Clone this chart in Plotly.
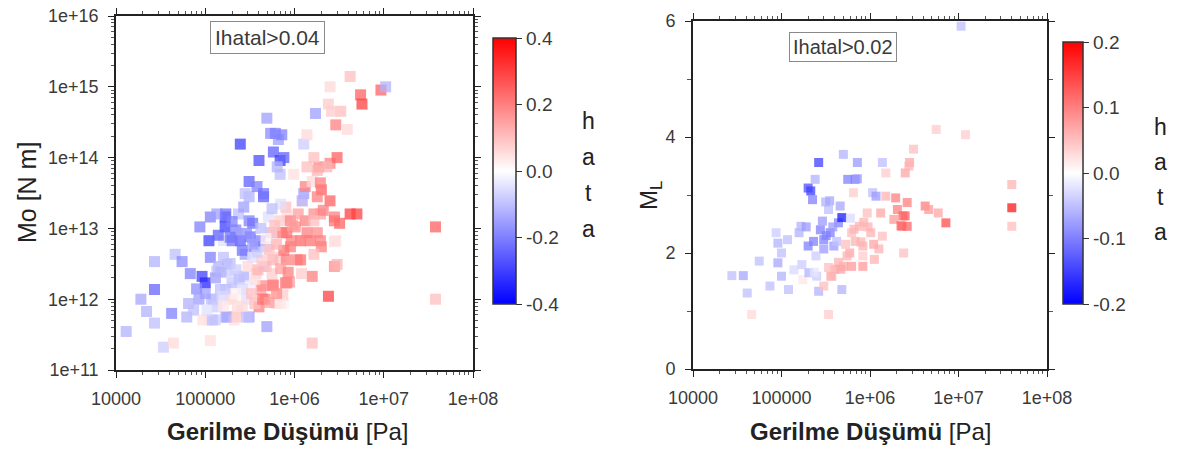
import plotly.graph_objects as go

# ---- Left panel: seismic moment vs stress drop, coloured by error ----
stress_drop_mo = [
    1.3e4, 1.9e4, 2.2e4, 2.7e4, 2.7e4, 2.7e4, 3.4e4, 4.4e4, 4.2e4, 4.6e4,
    5.5e4, 6.8e4, 6.5e4, 6.2e4, 7.4e4, 9.2e4, 1.0e5, 8.7e4, 1.14e5, 1.14e5,
    1.1e5, 1.14e5, 1.24e5, 1.29e5, 1.41e5, 1.48e5, 1.67e5, 1.67e5, 1.6e5, 1.75e5,
    1.75e5, 1.9e5, 2.0e5, 2.1e5, 2.3e5, 2.36e5, 2.47e5, 2.47e5, 2.7e5, 2.8e5,
    2.9e5, 3.1e5, 3.1e5, 3.1e5, 3.1e5, 3.6e5, 3.8e5, 4.0e5, 4.0e5, 4.2e5,
    4.5e5, 4.5e5, 4.7e5, 4.9e5, 4.9e5, 5.1e5, 5.4e5, 5.4e5, 5.6e5, 5.8e5,
    5.8e5, 6.6e5, 6.9e5, 6.9e5, 6.9e5, 7.2e5, 7.6e5, 7.9e5, 8.2e5, 9.0e5,
    9.8e5, 1.02e6, 1.07e6, 1.17e6, 1.22e6, 1.27e6, 1.27e6, 1.32e6, 1.32e6, 1.38e6,
    1.5e6, 1.58e6, 1.58e6, 1.65e6, 1.72e6, 1.8e6, 1.58e6, 1.87e6, 1.95e6, 2.0e6,
    2.0e6, 2.4e6, 2.4e6, 2.5e6, 2.5e6, 2.5e6, 2.8e6, 2.8e6, 2.9e6, 2.9e6,
    3.0e6, 3.2e6, 3.3e6, 3.9e6, 4.2e6, 4.2e6, 5.0e6, 5.5e6, 5.7e6, 9.3e6,
    1.05e7, 3.8e7, 3.8e7,
    1.1e5, 1.35e5, 1.7e5, 2.0e5, 1.6e5, 1.35e5, 1.7e5, 2.0e5, 1.7e5, 2.0e5,
    2.2e5, 2.9e5, 1.7e5, 2.7e5, 3.4e5, 3.2e5, 4.1e5, 2.6e5, 3.4e5, 4.8e5,
    5.7e5, 7.4e5, 6.8e5, 9.2e5, 3.0e5, 3.7e5, 4.8e5, 5.7e5, 8.1e5, 3.2e5,
    4.4e5, 5.7e5, 8.8e5, 3.6e5, 4.4e5, 6.2e5, 7.4e5, 1.17e5, 9.4e4, 1.2e5,
    2.1e6, 2.8e6, 9.0e5, 1.65e6, 8.2e5, 1.17e6, 1.95e6, 2.8e6, 7.6e5, 1.17e6,
    1.65e6, 3.0e6, 1.2e6, 8.2e5, 6.9e5,
    2.6e6, 6.1e5, 7.2e5, 1.38e6, 7.6e5, 6.4e5, 1.65e6, 1.38e6, 1.8e6, 2.3e6,
    4.5e5, 2.8e5, 1.95e6, 1.22e6, 1.8e6,
    1.3e5, 1.5e5, 1.9e5, 2.2e5, 2.4e5, 2.6e5, 2.2e5, 1.55e5, 1.35e5, 1.6e5,
    2.6e5, 3.3e5, 3.6e5, 3.9e5, 4.3e5, 3.8e5, 3.4e5, 2.9e5, 2.2e5, 1.9e5,
    1.4e5, 2.0e5, 4.2e5, 4.8e5, 5.2e5, 6.3e5, 6.0e5, 7.0e5, 6.3e5, 5.2e5,
    8.5e5, 9.5e5, 1.1e6, 8.0e5, 7.0e5, 5.6e5, 1.0e5, 8.0e4, 8.5e4, 1.05e5,
]
moment = [
    3.5e11, 1.0e12, 6.7e11, 1.37e12, 3.4e12, 4.6e11, 2.1e11, 2.4e11, 6.3e11, 4.3e12,
    3.4e12, 2.3e12, 8.7e11, 5.6e11, 7.0e11, 2.1e12, 1.7e12, 1.05e13, 1.45e13, 3.9e12,
    5.1e11, 2.6e11, 1.0e12, 5.1e11, 2.9e12, 1.37e12, 1.45e13, 1.05e13, 6.7e12, 3.1e12,
    5.6e11, 1.0e12, 1.7e12, 5.1e11, 7.0e11, 1.6e13, 1.55e14, 6.7e12, 2.1e12, 4.3e12,
    1.0e12, 5.6e11, 4.6e13, 2.8e13, 1.28e13, 5.5e12, 3.9e13, 9.1e13, 7.8e11, 1.37e12,
    2.8e13, 2.9e12, 1.0e12, 3.6e14, 4.1e11, 1.45e13, 2.2e14, 8.7e12, 2.3e12, 1.55e12,
    1.2e14, 1.8e14, 9.1e13, 5.8e13, 3.9e12, 8.7e12, 8.7e11, 1.7e12, 1.45e13, 5.5e12,
    5.8e13, 1.05e13, 3.6e12, 6.7e12, 2.45e13, 1.55e14, 3.1e13, 3.9e13, 1.28e13, 8.7e12,
    6.7e12, 2.1e12, 4.6e13, 1.6e13, 4.2e14, 8.7e12, 2.4e11, 7.4e13, 1.6e13, 3.5e13,
    5.5e12, 5.7e14, 1.1e12, 1.0e15, 8.3e13, 2.45e13, 1.45e13, 2.9e12, 6.7e12, 2.9e14,
    1.0e14, 1.18e13, 4.5e14, 2.5e14, 1.4e15, 1.6e13, 1.6e13, 7.7e14, 5.7e14, 9.0e14,
    1.0e15, 1.05e13, 1.0e12,
    6.7e12, 1.6e13, 1.6e13, 6.7e12, 3.9e12, 2.5e12, 2.5e12, 2.1e12, 1.37e12, 1.0e12,
    5.6e11, 5.6e11, 5.6e11, 2.0e13, 1.18e13, 7.6e12, 6.7e12, 4.9e12, 3.9e12, 5.5e12,
    8.7e12, 8.7e12, 1.28e13, 6.7e12, 2.9e12, 2.3e12, 2.9e12, 3.6e12, 3.6e12, 1.55e12,
    1.55e12, 1.6e12, 1.75e12, 8.7e11, 1.0e12, 8.7e11, 1.15e12, 1.0e12, 5.1e11, 5.1e11,
    1.8e13, 1.28e13, 1.28e13, 1.28e13, 8.7e12, 6.7e12, 6.7e12, 6.5e12, 4.9e12, 3.6e12,
    4.3e12, 3.1e12, 2.3e12, 1.7e12, 8.7e11,
    4.5e14, 2.2e14, 2.1e14, 2.1e14, 1.0e14, 7.4e13, 1.0e14, 7.4e13, 6.6e13, 7.4e13,
    3.1e13, 3.1e13, 4.4e13, 2.45e13, 2.8e13,
    2.0e12, 2.4e12, 3.2e12, 2.6e12, 1.9e12, 1.4e12, 1.2e12, 1.1e12, 7.8e11, 8.0e11,
    8.0e11, 1.2e12, 1.9e12, 2.6e12, 3.5e12, 4.6e12, 6.0e12, 8.5e12, 9.5e12, 7.5e12,
    8.0e12, 1.25e13, 1.0e13, 7.2e12, 5.0e12, 6.0e12, 1.1e13, 2.7e12, 1.2e12, 9.0e11,
    2.4e12, 1.1e13, 1.6e13, 2.0e13, 2.2e13, 1.9e13, 1.2e12, 1.4e12, 1.0e12, 7.0e11,
]
hata_mo = [
    -0.12, -0.14, -0.12, -0.24, -0.12, -0.10, -0.08, 0.06, -0.20, -0.10,
    -0.18, -0.20, -0.12, -0.12, -0.10, -0.30, -0.34, -0.20, -0.20, -0.20,
    0.04, 0.05, -0.10, -0.08, -0.12, -0.10, -0.30, -0.30, -0.05, -0.12,
    -0.20, 0.04, -0.10, 0.05, 0.06, -0.10, -0.30, -0.25, -0.12, -0.15,
    -0.05, -0.15, -0.25, -0.12, -0.20, -0.20, -0.20, -0.28, 0.20, 0.15,
    -0.25, -0.10, 0.20, -0.15, -0.15, -0.05, -0.18, -0.10, 0.08, 0.20,
    -0.25, -0.15, -0.30, -0.10, 0.08, 0.15, 0.02, 0.20, 0.06, 0.20,
    0.05, 0.18, 0.20, 0.15, 0.08, -0.08, -0.15, 0.20, 0.20, 0.20,
    0.22, 0.20, 0.06, 0.18, -0.15, 0.18, 0.10, 0.20, 0.15, 0.25,
    0.20, 0.08, 0.30, 0.06, 0.20, 0.25, 0.20, 0.18, 0.05, 0.20,
    0.25, 0.25, 0.10, 0.06, 0.10, 0.30, 0.30, 0.25, 0.30, 0.25,
    -0.12, 0.25, 0.10,
    -0.30, -0.15, -0.22, -0.22, -0.10, -0.10, -0.08, -0.06, -0.10, 0.06,
    0.08, -0.10, -0.12, -0.15, -0.22, -0.22, -0.20, -0.22, -0.05, -0.08,
    0.10, 0.18, 0.08, 0.20, 0.06, 0.08, 0.10, 0.12, 0.20, -0.03,
    0.18, 0.20, 0.15, 0.10, 0.22, 0.06, 0.08, -0.10, 0.05, -0.10,
    0.20, 0.22, 0.20, 0.10, 0.22, 0.20, 0.20, 0.05, 0.22, 0.22,
    0.10, 0.12, 0.08, 0.20, 0.04,
    0.08, -0.20, -0.20, 0.06, -0.25, -0.12, 0.10, 0.10, 0.12, 0.12,
    -0.22, -0.10, 0.20, -0.12, 0.20,
    -0.15, -0.12, -0.10, -0.08, -0.10, -0.06, 0.02, -0.06, -0.08, 0.04,
    0.06, 0.10, 0.05, 0.12, 0.08, -0.08, -0.15, -0.18, -0.20, -0.22,
    -0.25, -0.20, -0.10, 0.02, 0.10, 0.12, 0.10, 0.15, 0.18, 0.15,
    0.20, 0.15, 0.15, 0.10, -0.05, -0.10, -0.15, -0.18, -0.15, -0.05,
]

# ---- Right panel: local magnitude vs stress drop, coloured by error ----
stress_drop_ml = [
    2.75e4, 3.7e4, 4.1e4, 4.6e4, 5.6e4, 7.4e4, 8.7e4, 9.1e4, 9.1e4, 1.0e5,
    1.0e5, 1.17e5, 1.2e5, 1.38e5, 1.58e5, 1.66e5, 1.74e5, 2.0e5, 2.14e5, 2.24e5,
    2.04e5, 2.4e5, 2.5e5, 2.63e5, 2.63e5, 2.75e5, 3.0e5, 3.0e5, 3.4e5, 3.4e5,
    3.55e5, 3.7e5, 3.9e5, 4.4e5, 4.6e5, 4.8e5, 5.0e5, 5.0e5, 4.8e5, 5.6e5,
    5.9e5, 6.2e5, 6.2e5, 6.5e5, 6.8e5, 7.2e5, 7.6e5, 8.3e5, 8.3e5, 9.3e5,
    1.02e6, 1.07e6, 1.12e6, 1.17e6, 1.32e6, 1.38e6, 1.38e6, 1.51e6, 1.51e6, 1.86e6,
    1.95e6, 2.04e6, 2.3e6, 2.4e6, 2.5e6, 2.5e6, 2.63e6, 2.63e6, 2.8e6, 3.1e6,
    4.2e6, 4.6e6, 5.6e6, 5.9e6, 7.2e6, 1.2e7, 1.07e7, 4.0e7, 4.0e7, 4.0e7,
    3.16e5, 2.0e5, 3.0e5, 2.45e5, 4.4e5, 4.0e5, 2.35e5, 2.75e6, 2.35e6, 2.24e6,
    8.5e5, 6.6e5, 7.9e5, 1.26e6, 8.3e5, 4.7e5, 3.6e5, 7.2e5,
    2.9e5, 3.2e5, 3.8e5, 4.2e5, 3.5e5, 1.9e5, 2.3e5, 5.3e5, 5.5e5, 6.8e5,
    9.5e5, 1.1e6, 3.4e5, 1.7e5, 6.0e5,
]
ml = [
    1.61, 1.61, 1.31, 0.94, 1.86, 1.43, 2.35, 2.17, 1.83, 2.0,
    1.6, 2.23, 1.37, 1.71, 2.35, 2.46, 1.54, 3.12, 3.07, 2.92,
    1.66, 3.27, 1.6, 3.56, 1.34, 2.4, 2.23, 1.43, 2.75, 0.94,
    2.35, 1.6, 2.12, 2.52, 2.81, 2.61, 1.77, 3.7, 1.37, 3.27,
    2.0, 2.35, 1.77, 3.04, 3.27, 3.56, 2.46, 2.12, 1.77, 2.69,
    2.35, 3.04, 1.89, 2.98, 2.69, 2.29, 3.56, 3.38, 2.98, 2.58,
    2.95, 2.75, 2.46, 2.0, 3.38, 2.64, 2.87, 2.46, 3.56, 3.79,
    2.81, 2.75, 4.13, 2.69, 2.52, 4.04, 5.91, 3.18, 2.78, 2.46,
    2.88, 2.12, 2.07, 1.95, 1.84, 1.72, 1.67, 3.5, 2.64, 2.47,
    2.53, 2.41, 2.19, 2.07, 1.95, 1.72, 1.6, 3.28,
    2.55, 2.3, 2.45, 2.2, 2.9, 2.45, 2.2, 2.15, 1.95, 2.2,
    2.45, 2.15, 1.75, 1.8, 2.6,
]
hata_ml = [
    -0.05, -0.07, -0.05, 0.03, -0.05, -0.05, -0.04, -0.06, -0.07, -0.05,
    -0.06, -0.05, -0.05, -0.03, -0.06, -0.06, 0.02, -0.14, -0.15, -0.10,
    -0.06, -0.06, -0.04, -0.15, -0.06, -0.10, -0.10, 0.05, -0.05, 0.04,
    -0.10, 0.06, -0.08, -0.10, -0.07, -0.18, 0.07, -0.06, -0.06, -0.10,
    0.07, 0.05, 0.08, 0.04, -0.10, -0.08, 0.06, 0.06, 0.08, 0.05,
    0.06, -0.05, 0.06, -0.08, 0.07, 0.05, -0.05, 0.04, 0.06, 0.08,
    0.10, 0.10, 0.10, 0.05, 0.07, 0.12, 0.10, 0.12, 0.07, 0.05,
    0.10, 0.08, 0.04, 0.07, 0.14, 0.04, -0.05, 0.06, 0.18, 0.05,
    -0.06, -0.10, -0.08, -0.04, 0.06, 0.07, -0.02, 0.06, 0.12, 0.12,
    0.06, 0.06, 0.06, 0.06, 0.04, 0.07, 0.06, -0.08,
    -0.08, -0.10, -0.08, -0.05, -0.07, -0.08, -0.10, 0.05, 0.06, 0.06,
    0.06, 0.07, 0.05, -0.04, -0.03,
]

x_tick_vals = [1e4, 1e5, 1e6, 1e7, 1e8]
x_tick_text = ["10000", "100000", "1e+06", "1e+07", "1e+08"]
mo_tick_vals = [1e11, 1e12, 1e13, 1e14, 1e15, 1e16]
mo_tick_text = ["1e+11", "1e+12", "1e+13", "1e+14", "1e+15", "1e+16"]
ml_tick_vals = [0, 2, 4, 6]
cb_mo_vals = [-0.4, -0.2, 0.0, 0.2, 0.4]
cb_mo_text = ["-0.4", "-0.2", "0.0", "0.2", "0.4"]
cb_ml_vals = [-0.2, -0.1, 0.0, 0.1, 0.2]
cb_ml_text = ["-0.2", "-0.1", "0.0", "0.1", "0.2"]

W, H = 1178, 457
FONT = "Liberation Sans"
INK = "#3a3a3a"
scale = [[0.0, "rgb(0,0,255)"], [0.5, "rgb(255,255,255)"], [1.0, "rgb(255,0,0)"]]


def fx(p):
    return p / W


def fy(p):
    return 1 - p / H


def log_minor_vals(lo, hi):
    # intermediate 2..9 ticks inside every decade
    return [k * 10.0 ** e for e in range(lo, hi) for k in range(2, 10)]


fig = go.Figure()
fig.add_trace(go.Scatter(
    x=stress_drop_mo, y=moment, mode="markers", xaxis="x", yaxis="y",
    marker=dict(symbol="square", size=11, color=hata_mo, coloraxis="coloraxis",
                opacity=0.75, line=dict(width=0)),
    showlegend=False, hoverinfo="skip",
))
fig.add_trace(go.Scatter(
    x=stress_drop_ml, y=ml, mode="markers", xaxis="x2", yaxis="y2",
    marker=dict(symbol="square", size=9, color=hata_ml, coloraxis="coloraxis2",
                opacity=0.75, line=dict(width=0)),
    showlegend=False, hoverinfo="skip",
))

axis_style = dict(
    showline=True, linecolor="#222222", linewidth=1.6, mirror="allticks",
    ticks="outside", ticklen=6, tickwidth=1.3, tickcolor="#222222",
    showgrid=False, zeroline=False, ticklabelstandoff=6, automargin=False,
    tickfont=dict(family=FONT, size=18, color=INK),
)


def minor_style(vals):
    return dict(ticks="outside", ticklen=3, tickwidth=1, tickcolor="#555555",
                tickvals=vals, showgrid=False)


fig.update_layout(
    width=W, height=H, margin=dict(l=0, r=0, t=0, b=0),
    paper_bgcolor="white", plot_bgcolor="white",
    xaxis=dict(axis_style, type="log", range=[4, 8], domain=[fx(116), fx(473)],
               anchor="y", tickvals=x_tick_vals, ticktext=x_tick_text,
               minor=minor_style(log_minor_vals(4, 8))),
    yaxis=dict(axis_style, type="log", range=[11, 16], domain=[fy(370), fy(16)],
               anchor="x", tickvals=mo_tick_vals, ticktext=mo_tick_text,
               minor=minor_style(log_minor_vals(11, 16))),
    xaxis2=dict(axis_style, type="log", range=[4, 8], domain=[fx(693), fx(1047)],
                anchor="y2", tickvals=x_tick_vals, ticktext=x_tick_text,
                minor=minor_style(log_minor_vals(4, 8))),
    yaxis2=dict(axis_style, range=[0, 6], domain=[fy(369), fy(21)],
                anchor="x2", tickvals=ml_tick_vals,
                minor=dict(ticks="outside", ticklen=4, tickvals=[1, 3, 5],
                           tickcolor="#555555", showgrid=False)),
    coloraxis=dict(
        colorscale=scale, cmin=-0.4, cmax=0.4,
        colorbar=dict(
            x=fx(493), xanchor="left", xpad=0, y=fy(171), yanchor="middle", ypad=0,
            len=266 / H, lenmode="fraction", thickness=23, thicknessmode="pixels",
            outlinewidth=1.5, outlinecolor="#333333", ticks="outside", ticklen=6,
            tickcolor="#333333", tickvals=cb_mo_vals, ticktext=cb_mo_text,
            tickfont=dict(family=FONT, size=19, color=INK),
        ),
    ),
    coloraxis2=dict(
        colorscale=scale, cmin=-0.2, cmax=0.2,
        colorbar=dict(
            x=fx(1063), xanchor="left", xpad=0, y=fy(173), yanchor="middle", ypad=0,
            len=262 / H, lenmode="fraction", thickness=20, thicknessmode="pixels",
            outlinewidth=1.5, outlinecolor="#333333", ticks="outside", ticklen=6,
            tickcolor="#333333", tickvals=cb_ml_vals, ticktext=cb_ml_text,
            tickfont=dict(family=FONT, size=19, color=INK),
        ),
    ),
)

annotations = []


def label(text, px, py, size, rot=0, color="#222222", **kw):
    annotations.append(dict(
        text=text, x=fx(px), y=fy(py), xref="paper", yref="paper",
        xanchor="center", yanchor="middle", showarrow=False, textangle=rot,
        font=dict(family=FONT, size=size, color=color), **kw,
    ))


# filter boxes
label("Ihatal>0.04", 267, 38, 21, color=INK, bordercolor="#8a8a8a",
      borderwidth=1, borderpad=4, bgcolor="white")
label("Ihatal>0.02", 843, 47, 20, color=INK, bordercolor="#8a8a8a",
      borderwidth=1, borderpad=3, bgcolor="white")

# axis titles
label("Mo [N m]", 27, 193, 25, rot=-90)
label("M<sub>L</sub>", 651, 196, 24, rot=-90)
label("<b>Gerilme Düşümü</b> [Pa]", 287, 431, 24)
label("<b>Gerilme Düşümü</b> [Pa]", 870, 431, 24)

# colour bar titles, one letter per row
for i, ch in enumerate("hata"):
    label(ch, 588, 121 + 36 * i, 23)
    label(ch, 1160, 127 + 35 * i, 23)

fig.update_layout(annotations=annotations)
fig.write_html("out.html")
